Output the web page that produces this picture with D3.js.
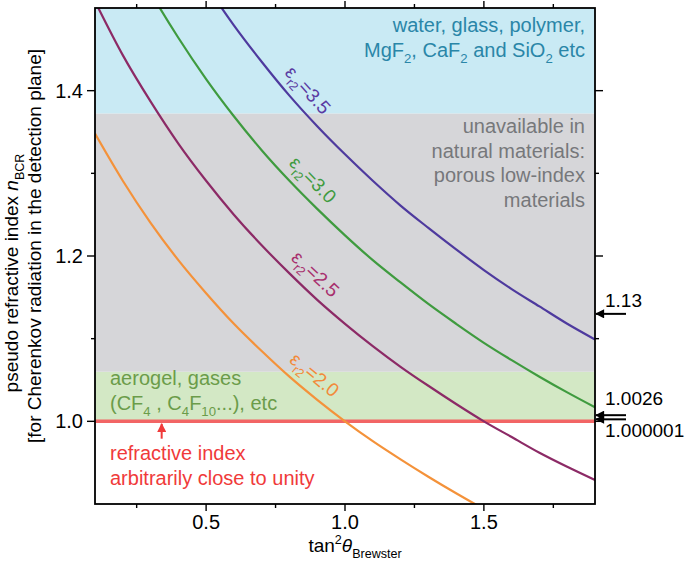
<!DOCTYPE html>
<html lang="en">
<head>
    <meta charset="UTF-8">
    <title>Pseudo refractive index</title>
    <script src="https://d3js.org/d3.v7.min.js"></script>
    <style>
        body { margin: 0; background: #fff; }
        text { font-family: 'Liberation Sans', Arial, Helvetica, sans-serif; }
    </style>
</head>
<body>
<script>

    const width  = 685;
    const height = 564;
    const margin = {left: 95, right: 90, top: 8, bottom: 60};

    // tan^2(theta_Brewster) sample positions, and n_BCR
    const tanSq = [0.1, 0.2, 0.3, 0.4, 0.5, 0.6, 0.7, 0.8, 0.9, 1.0,
                   1.1, 1.2, 1.3, 1.4, 1.5, 1.6, 1.7, 1.8, 1.9];
    const eps20 = [1.348, 1.291, 1.240, 1.195, 1.155, 1.118, 1.085, 1.054, 1.026, 1.000,
                   0.976, 0.954, 0.933, 0.913, 0.894, 0.877, 0.861, 0.845, 0.830];
    const eps25 = [1.508, 1.443, 1.387, 1.336, 1.291, 1.250, 1.213, 1.179, 1.147, 1.118,
                   1.091, 1.066, 1.043, 1.021, 1.000, 0.981, 0.962, 0.945, 0.929];
    const eps30 = [1.651, 1.581, 1.519, 1.464, 1.414, 1.369, 1.328, 1.291, 1.257, 1.225,
                   1.195, 1.168, 1.142, 1.118, 1.095, 1.074, 1.054, 1.035, 1.017];
    const eps35 = [1.784, 1.708, 1.641, 1.581, 1.528, 1.479, 1.435, 1.394, 1.357, 1.323,
                   1.291, 1.261, 1.234, 1.208, 1.183, 1.160, 1.139, 1.118, 1.099];

    const series = [
        {eps: '2.0', values: eps20, color: '#f4923a', label: '#f28a3a'},
        {eps: '2.5', values: eps25, color: '#8c2a66', label: '#a8306e'},
        {eps: '3.0', values: eps30, color: '#3f9b3f', label: '#3f9b3f'},
        {eps: '3.5', values: eps35, color: '#4e3a9e', label: '#5a3aa2'}
    ];
    const labelAt = [0.85, 0.85, 0.84, 0.82];

    // material bands (lower, upper bound of n)
    const bandLow   = [1.0, 1.06, 1.3725];
    const bandHigh  = [1.06, 1.3725, 1.5];
    const bandColor = ['#d3e8c5', '#d6d6d9', '#c9eaf4'];

    const majorX = [0.5, 1.0, 1.5];
    const minorX = [0.25, 0.75, 1.25, 1.75];
    const majorY = [1.0, 1.2, 1.4];
    const minorY = [1.1, 1.3];

    const marks      = [1.13, 1.0026, 1.000001];
    const markLabels = ['1.13', '1.0026', '1.000001'];

    const x = d3.scaleLinear().domain([0.1, 1.9]).range([margin.left, width - margin.right]);
    const y = d3.scaleLinear().domain([0.9, 1.5]).range([height - margin.bottom, margin.top]);

    const svg = d3.select("body")
            .append("svg")
            .attr("width", width)
            .attr("height", height);

    const defs = svg.append("defs");
    defs.append("clipPath").attr("id", "plot")
        .append("rect")
        .attr("x", x(0.1)).attr("y", y(1.5))
        .attr("width", x(1.9) - x(0.1)).attr("height", y(0.9) - y(1.5));

    [['arrowK', '#000'], ['arrowR', '#f03a3a']].forEach(([id, c]) => {
        defs.append("marker").attr("id", id)
            .attr("viewBox", "0 0 10 10").attr("refX", 9).attr("refY", 5)
            .attr("markerWidth", 5).attr("markerHeight", 4.5)
            .attr("markerUnits", "strokeWidth")
            .attr("orient", "auto")
            .append("path").attr("d", "M0,0 L10,5 L0,10 Z").attr("fill", c);
    });

    // rich text helper: parts are strings or [text, kind]
    function rich(sel, parts, size) {
        let shift = 0;
        parts.forEach(p => {
            const [txt, kind] = typeof p === 'string' ? [p, ''] : p;
            const small = kind.includes('sub') || kind.includes('sup');
            const target = kind.includes('sub') ? size * 0.3 : kind.includes('sup') ? -size * 0.4 : 0;
            sel.append("tspan")
               .attr("dy", target - shift)
               .attr("font-size", small ? size * 0.66 : size)
               .attr("font-style", kind.includes('i') ? 'italic' : null)
               .text(txt);
            shift = target;
        });
    }

    // bands
    svg.append("g").selectAll("rect")
        .data(bandLow)
        .enter().append("rect")
        .attr("x", x(0.1))
        .attr("width", x(1.9) - x(0.1))
        .attr("y", (d, i) => y(bandHigh[i]))
        .attr("height", (d, i) => y(d) - y(bandHigh[i]))
        .attr("fill", (d, i) => bandColor[i]);

    // unity line
    svg.append("line")
        .attr("x1", x(0.1)).attr("x2", x(1.9))
        .attr("y1", y(1.0)).attr("y2", y(1.0))
        .attr("stroke", "#f26565").attr("stroke-width", 3.5);

    // curves
    const line = d3.line()
        .x((d, i) => x(tanSq[i]))
        .y(d => y(d))
        .curve(d3.curveMonotoneX);

    svg.append("g").attr("clip-path", "url(#plot)")
        .selectAll("path")
        .data(series)
        .enter().append("path")
        .attr("d", d => line(d.values))
        .attr("fill", "none")
        .attr("stroke", d => d.color)
        .attr("stroke-width", 2.2);

    // curve labels, rotated along the curve
    series.forEach((s, i) => {
        const t = labelAt[i];
        const k = d3.bisectLeft(tanSq, t);
        const f = (t - tanSq[k - 1]) / (tanSq[k] - tanSq[k - 1]);
        const v = s.values[k - 1] + f * (s.values[k] - s.values[k - 1]);
        const ang = Math.atan2(y(s.values[k]) - y(s.values[k - 1]), x(tanSq[k]) - x(tanSq[k - 1])) * 180 / Math.PI;
        const txt = svg.append("text")
            .attr("transform", "translate(" + [x(t), y(v)] + ") rotate(" + ang + ")")
            .attr("x", 0).attr("y", -11)
            .attr("text-anchor", "middle")
            .attr("fill", s.label);
        rich(txt, ['ε', ['r2', 'sub'], '=' + s.eps], 19);
    });

    // frame
    svg.append("rect")
        .attr("x", x(0.1)).attr("y", y(1.5))
        .attr("width", x(1.9) - x(0.1)).attr("height", y(0.9) - y(1.5))
        .attr("fill", "none").attr("stroke", "#000").attr("stroke-width", 1.8);

    // ticks (outward on all four sides)
    const ticks = svg.append("g").attr("stroke", "#000").attr("stroke-width", 1.4);
    [[majorX, 7], [minorX, 4]].forEach(([vals, len]) => {
        vals.forEach(v => {
            ticks.append("line").attr("x1", x(v)).attr("x2", x(v)).attr("y1", y(0.9)).attr("y2", y(0.9) + len);
            ticks.append("line").attr("x1", x(v)).attr("x2", x(v)).attr("y1", y(1.5)).attr("y2", y(1.5) - len);
        });
    });
    [[majorY, 8], [minorY, 4]].forEach(([vals, len]) => {
        vals.forEach(v => {
            ticks.append("line").attr("x1", x(0.1)).attr("x2", x(0.1) - len).attr("y1", y(v)).attr("y2", y(v));
            ticks.append("line").attr("x1", x(1.9)).attr("x2", x(1.9) + len).attr("y1", y(v)).attr("y2", y(v));
        });
    });

    svg.append("g").selectAll("text")
        .data(majorX)
        .enter().append("text")
        .attr("x", d => x(d)).attr("y", y(0.9) + 25)
        .attr("text-anchor", "middle").attr("font-size", 20)
        .text(d3.format(".1f"));

    svg.append("g").selectAll("text")
        .data(majorY)
        .enter().append("text")
        .attr("x", x(0.1) - 12).attr("y", d => y(d))
        .attr("dy", "0.35em")
        .attr("text-anchor", "end").attr("font-size", 20)
        .text(d3.format(".1f"));

    // axis titles
    rich(svg.append("text").attr("x", 355).attr("y", 552).attr("text-anchor", "middle"),
         ['tan', ['2', 'sup'], ['θ', 'i'], ['Brewster', 'sub']], 19);

    rich(svg.append("text").attr("transform", "rotate(-90)")
            .attr("x", -273).attr("y", 18).attr("text-anchor", "middle"),
         ['pseudo refractive index ', ['n', 'i'], ['BCR', 'sub']], 19);
    svg.append("text").attr("transform", "rotate(-90)")
        .attr("x", -246).attr("y", 41).attr("text-anchor", "middle")
        .attr("font-size", 19)
        .text("[for Cherenkov radiation in the detection plane]");

    // right-hand markers
    const nudge = [0, -4, -2];
    const labelY = [-7, -10, 18];
    marks.forEach((m, i) => {
        svg.append("line")
            .attr("x1", x(1.9) + 31).attr("x2", x(1.9) + 1)
            .attr("y1", y(m) + nudge[i]).attr("y2", y(m) + nudge[i])
            .attr("stroke", "#000").attr("stroke-width", 2)
            .attr("marker-end", "url(#arrowK)");
        svg.append("text")
            .attr("x", x(1.9) + 10).attr("y", y(m) + nudge[i] + labelY[i])
            .attr("font-size", 19)
            .text(markLabels[i]);
    });

    // region notes
    const note = (lines, xp, y0, anchor, color) => {
        lines.forEach((parts, i) => {
            rich(svg.append("text").attr("x", xp).attr("y", y0 + i * 24.5)
                    .attr("text-anchor", anchor).attr("fill", color), parts, 20);
        });
    };
    note([['water, glass, polymer,'],
          ['MgF', ['2', 'sub'], ', CaF', ['2', 'sub'], ' and SiO', ['2', 'sub'], ' etc']],
         585, 32, 'end', '#2a86a8');
    note([['unavailable in '], ['natural materials:'], ['porous low-index'], ['materials']],
         585, 133, 'end', '#76787b');
    note([['aerogel, gases'], ['(CF', ['4', 'sub'], ' , C', ['4', 'sub'], 'F', ['10', 'sub'], '...), etc']],
         110, 385, 'start', '#6b9c4a');
    note([['refractive index'], ['arbitrarily close to unity']],
         110, 460, 'start', '#f03a3a');

    svg.append("line")
        .attr("x1", x(0.34)).attr("x2", x(0.34))
        .attr("y1", y(0.979)).attr("y2", y(0.997))
        .attr("stroke", "#f03a3a").attr("stroke-width", 2)
        .attr("marker-end", "url(#arrowR)");

</script>
</body>
</html>
